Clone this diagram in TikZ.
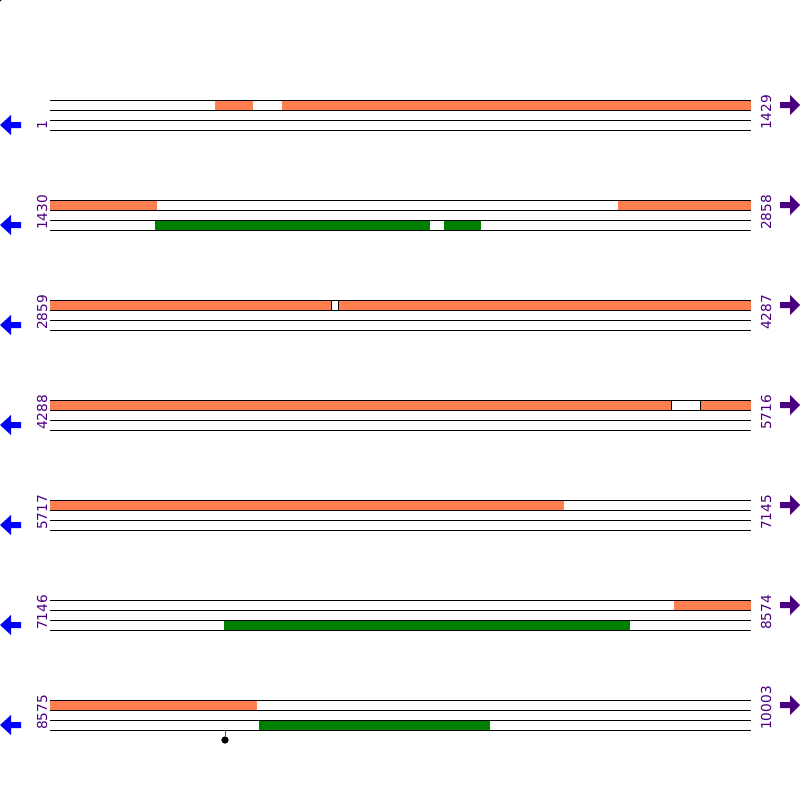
\documentclass[tikz,border=0pt]{standalone}
\usepackage{fontspec}
\setmainfont{DejaVu Sans}
\begin{document}
\begin{tikzpicture}[x=0.75pt,y=-0.75pt,
  trackline/.style={black,line width=0.75pt},
  orangebar/.style={fill={rgb,255:red,255;green,127;blue,80},draw=none},
  greenbar/.style={fill={rgb,255:red,0;green,128;blue,0},draw=none},
  numlabel/.style={rotate=90,anchor=base west,inner sep=0pt,text={rgb,255:red,75;green,0;blue,130},font=\fontsize{10.3pt}{12pt}\selectfont},
  leftarrow/.style={fill={rgb,255:red,0;green,0;blue,255},draw=none},
  rightarrow/.style={fill={rgb,255:red,75;green,0;blue,130},draw=none}]
\useasboundingbox (0,0) rectangle (800,800);
\fill[black] (0,0) circle (1.5);
% rows
\foreach \r/\ls/\rs in {0/1/1429,1/1430/2858,2/2859/4287,3/4288/5716,4/5717/7145,5/7146/8574,6/8575/10003}{
  \pgfmathsetmacro{\yy}{100+100*\r}
  \node[numlabel] (L\r) at (47,\yy+30) {\ls};
  \node[numlabel] (R\r) at (771,\yy+30) {\rs};
  \fill[leftarrow] (0,\yy+25) -- (11,\yy+15) -- (11,\yy+22) -- (21,\yy+22) -- (21,\yy+28) -- (11,\yy+28) -- (11,\yy+35) -- cycle;
  \fill[rightarrow] (800,\yy+5) -- (790,\yy-5) -- (790,\yy+2) -- (780,\yy+2) -- (780,\yy+8) -- (790,\yy+8) -- (790,\yy+15) -- cycle;
}
% orange bars (between lines 1 and 2)
\foreach \a/\b/\r in {215/253/0,282/751/0,50/157/1,618/751/1,50/331/2,338/751/2,50/671/3,700/751/3,50/564/4,674/751/5,50/257/6}{
  \fill[orangebar] (\a,100+100*\r) rectangle (\b,110+100*\r);
}
% green bars (between lines 3 and 4)
\foreach \a/\b/\r in {155/430/1,444/481/1,224/630/5,259/490/6}{
  \fill[greenbar] (\a,120+100*\r) rectangle (\b,130+100*\r);
}
% track lines
\foreach \r in {0,...,6}{
  \foreach \o in {0,10,20,30}{
    \draw[trackline] (50,100+100*\r+\o) -- (751,100+100*\r+\o);
  }
}
% small gap edges
\draw[black,line width=0.5pt] (331,300) -- (331,310) (338,300) -- (338,310);
\draw[black,line width=0.5pt] (671,400) -- (671,410) (700,400) -- (700,410);
% pin
\coordinate (pintop) at (225,730);
\node[circle,fill=black,inner sep=0pt,minimum size=5.5pt] (pin) at (225,740) {};
\draw[red,line width=0.75pt] (pintop) -- (pin.north);
\end{tikzpicture}
\end{document}
